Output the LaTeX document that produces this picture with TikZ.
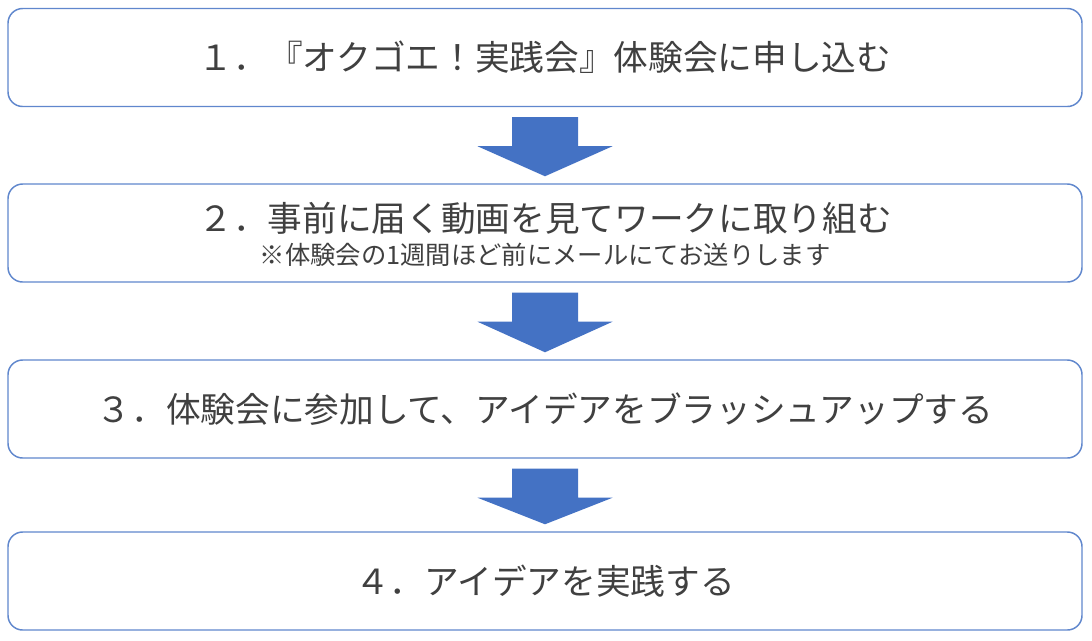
\documentclass[tikz,border=0pt]{standalone}
\usepackage{fontspec}
\setmainfont{Noto Sans CJK JP}
\usepackage{tikz}
\usetikzlibrary{positioning}
\usetikzlibrary{calc}

\definecolor{stepblue}{HTML}{4472C4}
\definecolor{steptext}{HTML}{404040}

\tikzset{
  stepbox/.style = {draw = stepblue!85, line width = 1.1, fill = white, rounded corners = 11,
                    minimum width = 805.5, minimum height = 73.5, inner sep = 0pt},
  steplabel/.style = {text = steptext, font = \fontsize{26}{30}\selectfont, inner sep = 0pt},
  notelabel/.style = {text = steptext, font = \fontsize{19}{22}\selectfont, inner sep = 0pt},
  blockarrow/.style = {fill = stepblue, draw = none}
}

% down arrow between two boxes
\newcommand{\flowarrow}[2]{%
  \fill[blockarrow] ($(#1.south)+(-33,10)$) -- ($(#1.south)+(33,10)$) -- ++(0,29)
    -- ++(34.5,0) -- ($(#2.north)+(0,-7)$) -- ($(#1.south)+(-67.5,39)$)
    -- ($(#1.south)+(-33,39)$) -- cycle;}

\begin{document}
\begin{tikzpicture}[x = 0.75pt, y = -0.75pt]
  \useasboundingbox (0,0) rectangle (1092,640);
  \node[stepbox] (s1) at (545,57.5) {};
  \node[stepbox] (s2) at (545,233) {};
  \node[stepbox] (s3) at (545,409) {};
  \node[stepbox] (s4) at (545,581) {};

  \node[steplabel] (t1) at (s1.center) {１．『オクゴエ！実践会』体験会に申し込む};
  \node[steplabel] (t2) at ($(s2.center)+(0,-15)$) {２．事前に届く動画を見てワークに取り組む};
  \node[notelabel] (n2) at ($(s2.center)+(0,22)$) {※体験会の1週間ほど前にメールにてお送りします};
  \node[steplabel] (t3) at (s3.center) {３．体験会に参加して、アイデアをブラッシュアップする};
  \node[steplabel] (t4) at (s4.center) {４．アイデアを実践する};

  \flowarrow{s1}{s2}
  \flowarrow{s2}{s3}
  \flowarrow{s3}{s4}
\end{tikzpicture}
\end{document}
